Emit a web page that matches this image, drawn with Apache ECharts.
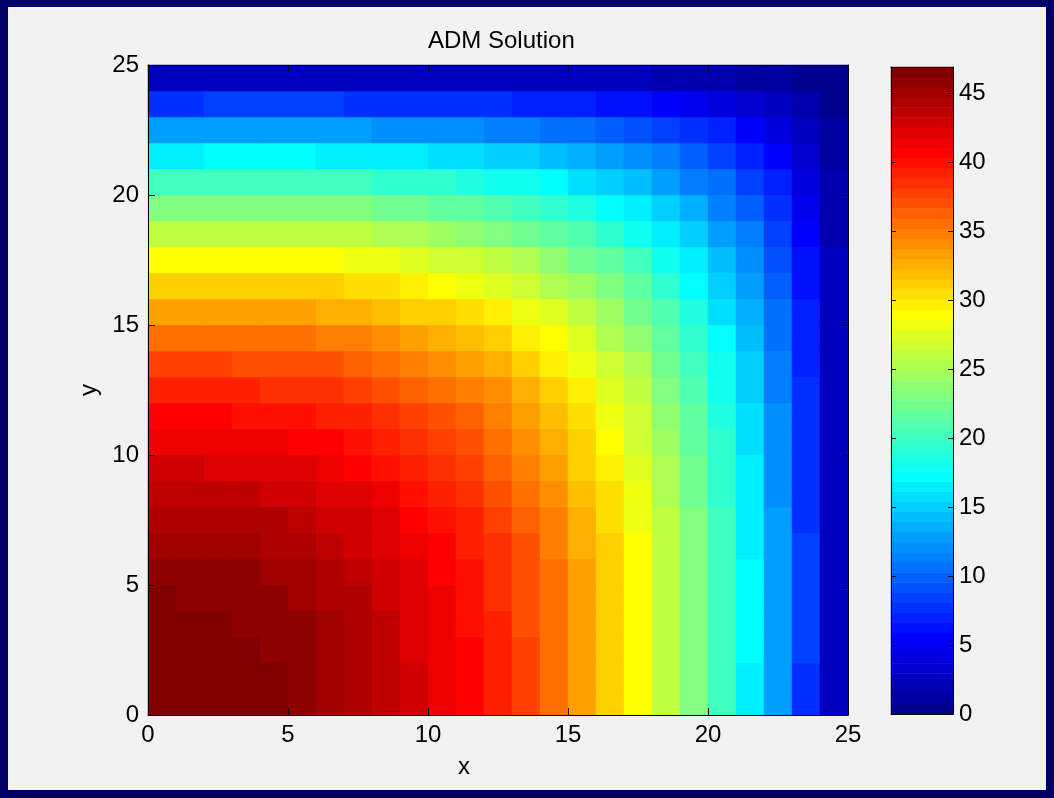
<!DOCTYPE html>
<html>
<head>
<meta charset="utf-8">
<script src="https://cdn.jsdelivr.net/npm/echarts@6/dist/echarts.min.js"></script>
<style>
  html, body { margin: 0; padding: 0; background: #000066; width: 1054px; height: 798px; overflow: hidden; }
  #chart { position: absolute; left: 8px; top: 7px; width: 1038px; height: 783px; background: #f2f2f2; }
</style>
</head>
<body>
<div id="chart"></div>
<script>
// ---- data ----
const titleText = 'ADM Solution';
const xName = 'x';
const yName = 'y';
// cell centres (x and y) of the sampled field
const xCenters = [0.5,1.5,2.5,3.5,4.5,5.5,6.5,7.5,8.5,9.5,10.5,11.5,12.5,13.5,14.5,15.5,16.5,17.5,18.5,19.5,20.5,21.5,22.5,23.5,24.5];
const yCenters = [0.5,1.5,2.5,3.5,4.5,5.5,6.5,7.5,8.5,9.5,10.5,11.5,12.5,13.5,14.5,15.5,16.5,17.5,18.5,19.5,20.5,21.5,22.5,23.5,24.5];
// u(x, y): one row per y centre (bottom row first), one value per x centre
const uRows = [
  [46.9,46.9,46.7,46.5,46.2,45.8,45.2,44.5,43.6,42.6,41.5,40.4,39.0,37.4,35.5,33.4,31.2,29.0,26.1,23.1,20.1,16.8,12.6,8.0,2.9],
  [46.9,46.8,46.7,46.4,46.2,45.8,45.2,44.5,43.6,42.6,41.5,40.4,39.0,37.4,35.5,33.4,31.2,29.0,26.2,23.2,20.2,16.8,12.7,8.0,2.9],
  [46.7,46.7,46.5,46.3,46.0,45.7,45.1,44.4,43.5,42.5,41.5,40.4,39.0,37.4,35.5,33.4,31.3,29.0,26.2,23.2,20.2,16.9,12.7,8.1,2.9],
  [46.5,46.4,46.3,46.1,45.8,45.5,44.9,44.2,43.4,42.4,41.3,40.2,38.9,37.3,35.5,33.4,31.2,29.0,26.2,23.2,20.2,16.9,12.7,8.1,2.9],
  [46.2,46.1,46.0,45.8,45.6,45.3,44.7,44.0,43.2,42.2,41.2,40.1,38.8,37.2,35.4,33.3,31.2,29.0,26.2,23.2,20.2,16.9,12.7,8.1,2.9],
  [45.8,45.8,45.7,45.5,45.3,44.9,44.4,43.7,42.9,42.0,41.0,39.9,38.6,37.0,35.2,33.2,31.1,28.9,26.1,23.2,20.2,16.9,12.7,8.1,2.9],
  [45.2,45.2,45.1,44.9,44.7,44.4,43.9,43.2,42.4,41.5,40.5,39.5,38.2,36.7,34.9,32.9,30.8,28.7,25.9,23.0,20.1,16.8,12.6,8.1,2.9],
  [44.5,44.5,44.4,44.2,44.0,43.7,43.2,42.6,41.9,41.0,40.0,39.0,37.8,36.3,34.5,32.6,30.5,28.4,25.7,22.8,19.9,16.7,12.6,8.0,2.9],
  [43.6,43.6,43.5,43.4,43.2,42.9,42.4,41.9,41.1,40.3,39.3,38.4,37.2,35.7,34.0,32.1,30.1,28.0,25.4,22.5,19.7,16.5,12.4,7.9,2.9],
  [42.6,42.6,42.5,42.4,42.2,42.0,41.5,41.0,40.3,39.4,38.5,37.6,36.5,35.0,33.4,31.5,29.6,27.6,25.0,22.2,19.4,16.2,12.3,7.8,2.9],
  [41.5,41.5,41.5,41.3,41.2,40.9,40.5,40.0,39.3,38.5,37.7,36.8,35.7,34.3,32.7,30.9,29.0,27.1,24.5,21.8,19.1,16.0,12.1,7.7,2.8],
  [40.4,40.4,40.4,40.2,40.1,39.9,39.5,39.0,38.4,37.6,36.8,36.0,34.9,33.6,32.0,30.3,28.4,26.5,24.1,21.4,18.7,15.7,11.9,7.6,2.8],
  [39.0,39.0,39.0,38.9,38.8,38.6,38.2,37.8,37.2,36.5,35.7,34.9,33.9,32.6,31.2,29.5,27.7,25.9,23.4,20.9,18.3,15.3,11.6,7.4,2.7],
  [37.4,37.4,37.4,37.3,37.2,37.0,36.7,36.3,35.7,35.0,34.3,33.6,32.6,31.4,30.0,28.4,26.7,25.0,22.7,20.2,17.7,14.9,11.3,7.2,2.6],
  [35.5,35.5,35.5,35.5,35.4,35.2,34.9,34.5,34.0,33.4,32.7,32.0,31.2,30.0,28.7,27.2,25.6,23.9,21.7,19.4,17.0,14.3,10.8,6.9,2.5],
  [33.4,33.4,33.4,33.4,33.3,33.2,32.9,32.6,32.1,31.5,30.9,30.3,29.5,28.4,27.2,25.8,24.2,22.7,20.6,18.4,16.1,13.6,10.3,6.6,2.4],
  [31.2,31.2,31.2,31.2,31.2,31.1,30.8,30.5,30.1,29.6,29.0,28.4,27.7,26.7,25.6,24.2,22.8,21.4,19.4,17.4,15.2,12.8,9.7,6.2,2.3],
  [29.0,29.0,29.0,29.0,29.0,28.9,28.7,28.4,28.0,27.6,27.1,26.5,25.9,25.0,23.9,22.7,21.4,20.1,18.2,16.3,14.3,12.1,9.2,5.9,2.2],
  [26.1,26.2,26.2,26.2,26.2,26.1,25.9,25.7,25.4,25.0,24.5,24.1,23.4,22.7,21.7,20.6,19.4,18.2,16.6,14.9,13.1,11.0,8.4,5.4,2.0],
  [23.1,23.2,23.2,23.2,23.2,23.2,23.0,22.8,22.5,22.2,21.8,21.4,20.9,20.2,19.4,18.4,17.4,16.3,14.9,13.3,11.7,9.9,7.5,4.8,1.8],
  [20.1,20.2,20.2,20.2,20.2,20.2,20.1,19.9,19.7,19.4,19.1,18.7,18.3,17.7,17.0,16.1,15.2,14.3,13.1,11.7,10.3,8.7,6.6,4.3,1.6],
  [16.8,16.8,16.9,16.9,16.9,16.9,16.8,16.7,16.5,16.2,16.0,15.7,15.3,14.9,14.3,13.6,12.8,12.1,11.0,9.9,8.7,7.3,5.6,3.6,1.3],
  [12.6,12.7,12.7,12.7,12.7,12.7,12.6,12.6,12.4,12.3,12.1,11.9,11.6,11.3,10.8,10.3,9.7,9.2,8.4,7.5,6.6,5.6,4.3,2.7,1.0],
  [8.0,8.0,8.1,8.1,8.1,8.1,8.1,8.0,7.9,7.8,7.7,7.6,7.4,7.2,6.9,6.6,6.2,5.9,5.4,4.8,4.3,3.6,2.7,1.8,0.7],
  [2.9,2.9,2.9,2.9,2.9,2.9,2.9,2.9,2.9,2.8,2.8,2.8,2.7,2.6,2.5,2.4,2.3,2.2,2.0,1.8,1.6,1.3,1.0,0.7,0.2]
];
const axisTicks = [0, 5, 10, 15, 20, 25];
const colorbarTicks = [0, 5, 10, 15, 20, 25, 30, 35, 40, 45];
const colorMin = 0;
const colorMax = 46.9;
const nColors = 64;

// ---- MATLAB jet(64) colour map ----
function jet(k) { // k = 1..64
  const r = k < 25 ? 0 : k <= 40 ? (k - 24) / 16 : k <= 56 ? 1 : (72 - k) / 16;
  const g = k < 9 ? 0 : k <= 24 ? (k - 8) / 16 : k <= 40 ? 1 : (56 - k) / 16;
  const b = k <= 8 ? (k + 8) / 16 : k <= 24 ? 1 : k <= 40 ? (40 - k) / 16 : 0;
  const h = v => Math.round(Math.max(0, Math.min(1, v)) * 255);
  return 'rgb(' + h(r) + ',' + h(g) + ',' + h(b) + ')';
}
const step = (colorMax - colorMin) / nColors;
const pieces = [];
const cbLevels = [];
const cbData = [];
for (let k = 1; k <= nColors; k++) {
  const lo = colorMin + (k - 1) * step;
  const hi = colorMin + k * step;
  const p = { gte: lo, color: jet(k) };
  if (k < nColors) p.lt = hi; else p.lte = hi + 1;
  if (k === 1) p.gte = lo - 1;
  pieces.push(p);
  cbLevels.push(String(k));
  cbData.push([0, k - 1, (lo + hi) / 2]);
}

const heatData = [];
uRows.forEach((row, j) => row.forEach((v, i) => heatData.push([i, j, v])));

const FONT = "'Liberation Sans', Arial, Helvetica, sans-serif";
const txt = { color: '#000', fontFamily: FONT, fontSize: 24 };

const chart = echarts.init(document.getElementById('chart'), null, { renderer: 'canvas' });
// whole-pixel cells (28 x 26 px) so neighbouring cells leave no seams
const G0 = { left: 140, top: 58, width: 700, height: 650 };
const G1 = { left: 883, top: 60, width: 62, height: 647 };

function valueAxis(extra) {
  return Object.assign({
    type: 'value', gridIndex: 0, min: 0, max: 25, interval: 5, z: 10,
    splitLine: { show: false },
    axisLine: { show: true, onZero: false, lineStyle: { color: '#000', width: 1 } },
    axisTick: { show: true, inside: true, length: 7, lineStyle: { color: '#000' } },
    axisLabel: { show: false }
  }, extra);
}

const option = {
  animation: false,
  backgroundColor: '#f2f2f2',
  title: {
    text: titleText, left: 415, top: 17,
    textStyle: { color: '#000', fontFamily: FONT, fontSize: 24, fontWeight: 'normal' }
  },
  grid: [
    Object.assign({ containLabel: false }, G0),
    Object.assign({ containLabel: false }, G1)
  ],
  visualMap: {
    type: 'piecewise', show: false, dimension: 2, seriesIndex: [0, 1], pieces: pieces
  },
  xAxis: [
    { type: 'category', gridIndex: 0, data: xCenters.map(String), show: false },
    valueAxis({ position: 'bottom', name: xName, nameLocation: 'middle', nameGap: 40,
      nameTextStyle: Object.assign({ padding: [0, 68, 0, 0] }, txt),
      axisLabel: Object.assign({ show: true, margin: 8, customValues: axisTicks }, txt),
      axisTick: { show: true, inside: true, length: 7, customValues: axisTicks, lineStyle: { color: '#000' } } }),
    valueAxis({ position: 'top' }),
    { type: 'category', gridIndex: 1, data: ['c'], show: false },
    { type: 'value', gridIndex: 1, min: 0, max: 1, position: 'bottom', z: 10,
      axisLine: { show: true, lineStyle: { color: '#000' } }, axisTick: { show: false },
      axisLabel: { show: false }, splitLine: { show: false } },
    { type: 'value', gridIndex: 1, min: 0, max: 1, position: 'top', z: 10,
      axisLine: { show: true, lineStyle: { color: '#000' } }, axisTick: { show: false },
      axisLabel: { show: false }, splitLine: { show: false } }
  ],
  yAxis: [
    { type: 'category', gridIndex: 0, data: yCenters.map(String), show: false },
    valueAxis({ position: 'left', name: yName, nameLocation: 'middle', nameGap: 46, nameRotate: 90,
      nameTextStyle: txt,
      axisLabel: Object.assign({ show: true, margin: 9, customValues: axisTicks }, txt),
      axisTick: { show: true, inside: true, length: 7, customValues: axisTicks, lineStyle: { color: '#000' } } }),
    valueAxis({ position: 'right' }),
    { type: 'category', gridIndex: 1, data: cbLevels, show: false },
    { type: 'value', gridIndex: 1, min: colorMin, max: colorMax, position: 'right', z: 10,
      splitLine: { show: false },
      axisLine: { show: true, onZero: false, lineStyle: { color: '#000' } },
      axisTick: { show: true, inside: true, length: 5, customValues: colorbarTicks, lineStyle: { color: '#000' } },
      axisLabel: Object.assign({ show: true, margin: 6, customValues: colorbarTicks }, txt) },
    { type: 'value', gridIndex: 1, min: colorMin, max: colorMax, position: 'left', z: 10,
      splitLine: { show: false },
      axisLine: { show: true, onZero: false, lineStyle: { color: '#000' } },
      axisTick: { show: true, inside: true, length: 5, customValues: colorbarTicks, lineStyle: { color: '#000' } },
      axisLabel: { show: false } }
  ],
  series: [
    {
      type: 'heatmap', xAxisIndex: 0, yAxisIndex: 0, data: heatData,
      itemStyle: { borderWidth: 0 }, emphasis: { disabled: true }, progressive: 0
    },
    {
      type: 'heatmap', xAxisIndex: 3, yAxisIndex: 3, data: cbData,
      itemStyle: { borderWidth: 0 }, emphasis: { disabled: true }, progressive: 0
    }
  ]
};
chart.setOption(option);
</script>
</body>
</html>
